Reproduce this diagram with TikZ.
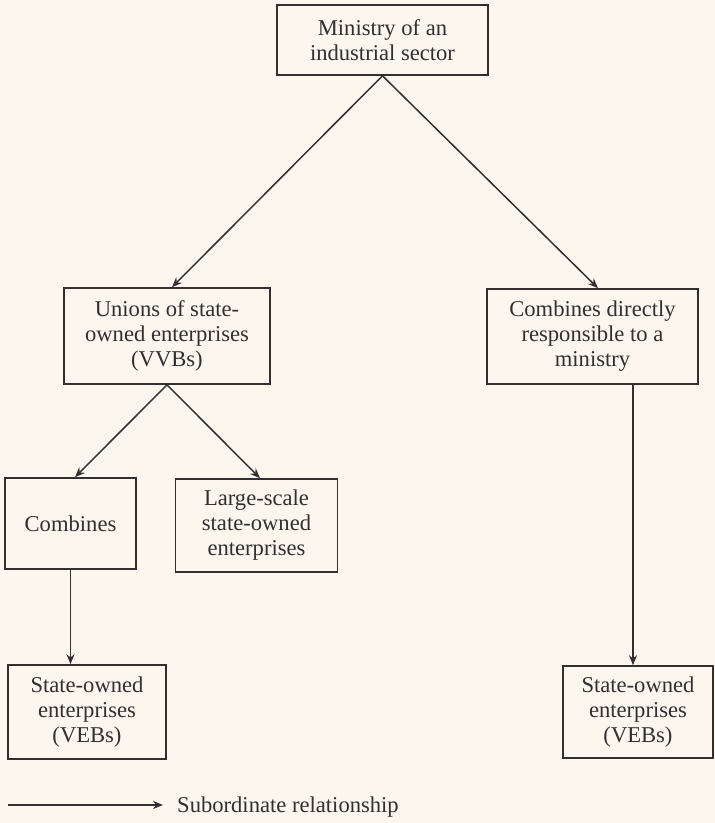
\documentclass[tikz,border=0pt]{standalone}
\usepackage{fontspec}
\setmainfont{Liberation Serif}
\usetikzlibrary{arrows.meta}
\definecolor{paper}{RGB}{251,246,238}
\definecolor{ink}{RGB}{50,48,46}
\begin{document}
\begin{tikzpicture}[x=1pt,y=-1pt,
  box/.style={draw=ink,line width=1.6pt,text=ink,align=center,inner sep=0pt,
    font=\fontsize{22.6}{25}\selectfont},
  arr/.style={draw=ink,line width=1.5pt,-{Stealth[length=10pt,width=8pt]}}]
  % page
  \fill[paper] (0,0) rectangle (715,823);
  \useasboundingbox (0,0) rectangle (715,823);
  % boxes
  \node[box,minimum width=211pt,minimum height=70pt] (min) at (382.5,40)
    {Ministry of an\\industrial sector};
  \node[box,minimum width=206pt,minimum height=96pt] (uni) at (167,336)
    {Unions of state-\\owned enterprises\\(VVBs)};
  \node[box,minimum width=211pt,minimum height=95pt] (cd) at (592.5,336.5)
    {Combines directly\\responsible to a\\ministry};
  \node[box,minimum width=131pt,minimum height=91pt] (comb) at (70.5,523.5)
    {Combines};
  \node[box,minimum width=162pt,minimum height=93pt] (big) at (256.5,525.5)
    {Large-scale\\state-owned\\enterprises};
  \node[box,minimum width=158pt,minimum height=94pt] (sv1) at (87,712)
    {State-owned\\enterprises\\(VEBs)};
  \node[box,minimum width=150pt,minimum height=92pt] (sv2) at (638,712)
    {State-owned\\enterprises\\(VEBs)};
  % subordination arrows
  \draw[arr] (min.south) -- ([xshift=5pt]uni.north);
  \draw[arr] (min.south) -- ([xshift=5.5pt]cd.north);
  \draw[arr] (uni.south) -- ([xshift=4.5pt]comb.north);
  \draw[arr] (uni.south) -- ([xshift=3.5pt]big.north);
  \draw[arr] (comb.south) -- (comb.south |- sv1.north);
  \coordinate (cdout) at ([xshift=40.5pt]cd.south);
  \draw[arr] (cdout) -- (cdout |- sv2.north);
  % legend
  \coordinate (lg1) at (8,805);
  \coordinate (lg2) at (163,805);
  \draw[arr] (lg1) -- (lg2);
  \node[anchor=base west,inner sep=0pt,text=ink,font=\fontsize{22.6}{25}\selectfont]
    (lgt) at (177,812) {Subordinate relationship};
\end{tikzpicture}
\end{document}
